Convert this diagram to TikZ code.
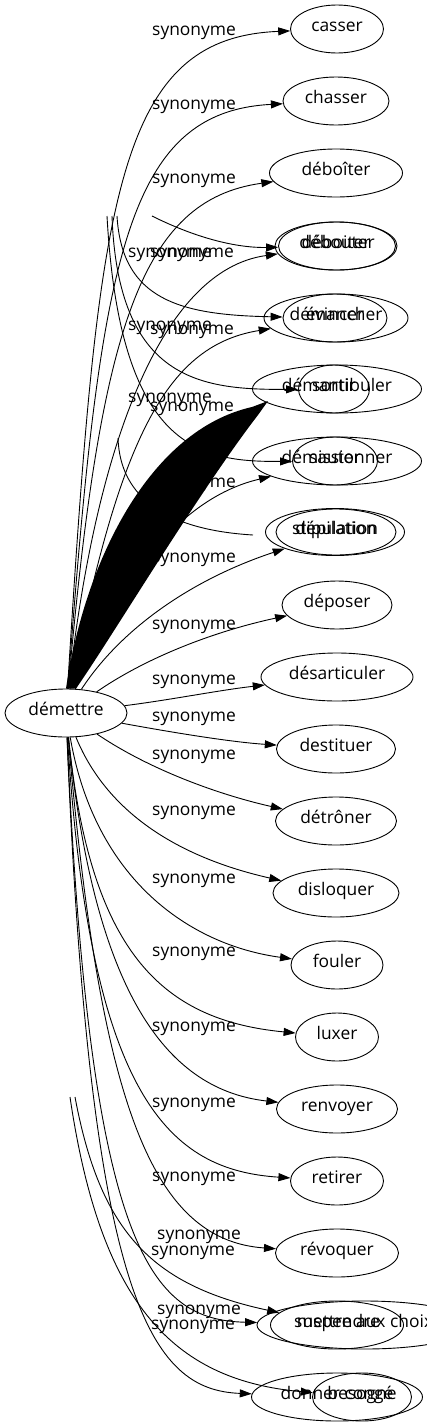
\documentclass[tikz,border=0pt]{standalone}
\usepackage{fontspec}
\setmainfont{Open Sans}
\usetikzlibrary{shapes.geometric,arrows.meta}

\begin{document}
\begin{tikzpicture}[x=1pt, y=-1pt,
    font=\fontsize{17.4}{20}\selectfont,
    word/.style={ellipse, draw, line width=0.9pt, minimum height=48pt, inner sep=0pt, text height=1ex, text depth=0pt},
    syn/.style={anchor=west, inner sep=0pt, text height=1ex, text depth=0pt},
    rel/.style={line width=0.9pt, -{Triangle[length=12pt,width=8pt]}}
]
\useasboundingbox (0,0) rectangle (427,1427);

% Words
\node[word, minimum width=122pt] (demettre) at (66,713) {démettre};
\node[word, minimum width=93pt] (casser) at (337,29) {casser};
\node[word, minimum width=106pt] (chasser) at (336,101) {chasser};
\node[word, minimum width=133pt] (deboiter) at (336,173) {déboîter};
\node[word, minimum width=122pt] (deboiterb) at (336,246) {déboiter};
\node[word, minimum width=117pt] (debouter) at (337,246) {débouter};
\node[word, minimum width=144pt] (demancher) at (336,318) {démancher};
\node[word, minimum width=104pt] (evincer) at (335,318) {évincer};
\node[word, minimum width=169pt] (demantibuler) at (337,389) {démantibuler};
\node[word, minimum width=71pt] (sortir) at (334,389) {sortir};
\node[word, minimum width=169pt] (demissionner) at (337,461) {démissionner};
\node[word, minimum width=85pt] (sauter) at (335,461) {sauter};
\node[word, minimum width=139pt, minimum height=47pt] (stipulation) at (335,532) {stipulation};
\node[word, minimum width=120pt, minimum height=46pt] (depilation) at (336,532) {dépilation};
\node[word, minimum width=110pt] (deposer) at (337,605) {déposer};
\node[word, minimum width=152pt] (desarticuler) at (337,677) {désarticuler};
\node[word, minimum width=119pt] (destituer) at (336,749) {destituer};
\node[word, minimum width=121pt] (detroner) at (336,821) {détrôner};
\node[word, minimum width=126pt] (disloquer) at (336,893) {disloquer};
\node[word, minimum width=92pt] (fouler) at (337,965) {fouler};
\node[word, minimum width=83pt] (luxer) at (337,1037) {luxer};
\node[word, minimum width=121pt] (renvoyer) at (337,1109) {renvoyer};
\node[word, minimum width=93pt] (retirer) at (337,1181) {retirer};
\node[word, minimum width=123pt] (revoquer) at (337,1253) {révoquer};
\node[word, minimum width=133pt] (suspendre) at (337,1325) {suspendre};
\node[word, minimum width=216pt] (mettre) at (365,1325) {mettre aux choix};
\node[word, minimum width=171pt] (donner) at (337,1397) {donner congé};
\node[word, minimum width=99pt] (besogne) at (362,1397) {besogne};

% Loose ends
\coordinate (ga) at (152,216);
\coordinate (gb) at (117,216);
\coordinate (gc) at (112,216);
\coordinate (gd) at (107,216);
\coordinate (ge) at (118,438);
\coordinate (gf) at (253,535);
\coordinate (gs) at (75,1097);
\coordinate (gt) at (70,1097);

% Edges, upper half
\draw[rel] (demettre) .. controls (98,200) and (115,38) .. (casser);
\draw[rel] (demettre) .. controls (100,260) and (125,112) .. (chasser);
\draw[rel] (demettre) .. controls (100,330) and (140,200) .. (deboiter);
\draw[rel] (demettre) .. controls (95,450) and (160,270) .. (deboiterb);
\draw[rel] (demettre) .. controls (120,430) and (170,345) .. (demancher);
\draw[rel] (demettre) .. controls (110,600) and (170,500) .. (demissionner);
\draw[rel] (demettre) .. controls (120,630) and (190,580) .. (stipulation);
\draw[rel] (demettre) .. controls (150,655) and (220,630) .. (deposer);
\draw[rel] (demettre) .. controls (170,700) and (220,690) .. (desarticuler);

% Edges, lower half
\draw[rel] (demettre) .. controls (170,732) and (230,742) .. (destituer);
\draw[rel] (demettre) .. controls (150,770) and (220,795) .. (detroner);
\draw[rel] (demettre) .. controls (110,820) and (190,860) .. (disloquer);
\draw[rel] (demettre) .. controls (95,880) and (190,945) .. (fouler);
\draw[rel] (demettre) .. controls (90,950) and (160,1020) .. (luxer);
\draw[rel] (demettre) .. controls (95,1000) and (170,1090) .. (renvoyer);
\draw[rel] (demettre) .. controls (90,1100) and (170,1170) .. (retirer);
\draw[rel] (demettre) .. controls (100,1100) and (150,1240) .. (revoquer);
\draw[rel] (demettre) .. controls (90,1250) and (150,1320) .. (mettre);
\draw[rel] (demettre) .. controls (90,1300) and (150,1390) .. (donner);

% Stray edges
\draw[rel] (ga) .. controls (200,240) and (240,248) .. (debouter);
\draw[rel] (gb) .. controls (122,300) and (180,315) .. (evincer);
\draw[rel] (gc) .. controls (118,380) and (200,390) .. (sortir);
\draw[rel] (gd) .. controls (120,450) and (200,462) .. (sauter);
\draw[line width=0.9pt] (ge) .. controls (120,500) and (170,530) .. (gf);
\draw[rel] (gs) .. controls (100,1230) and (150,1285) .. (suspendre);
\draw[rel] (gt) .. controls (100,1300) and (170,1380) .. (besogne);

% Edge labels
\node[syn] (s1) at (152,33) {synonyme};
\node[syn] (s2) at (152,107) {synonyme};
\node[syn] (s3) at (152,181) {synonyme};
\node[syn] (s4) at (128,255) {synonyme};
\node[syn] (s5) at (150,255) {synonyme};
\node[syn] (s6) at (128,328) {synonyme};
\node[syn] (s7) at (150,332) {synonyme};
\node[syn] (s8) at (128,400) {synonyme};
\node[syn] (s9) at (150,409) {synonyme};
\node[syn] (s10) at (152,485) {synonyme};
\node[syn] (s11) at (152,560) {synonyme};
\node[syn] (s12) at (152,627) {synonyme};
\node[syn] (s13) at (152,682) {synonyme};
\node[syn] (s14) at (152,719) {synonyme};
\node[syn] (s15) at (152,757) {synonyme};
\node[syn] (s16) at (152,813) {synonyme};
\node[syn] (s17) at (152,881) {synonyme};
\node[syn] (s18) at (152,954) {synonyme};
\node[syn] (s19) at (152,1029) {synonyme};
\node[syn] (s20) at (152,1105) {synonyme};
\node[syn] (s21) at (152,1179) {synonyme};
\node[syn] (s22) at (157,1237) {synonyme};
\node[syn] (s23) at (151,1253) {synonyme};
\node[syn] (s24) at (157,1312) {synonyme};
\node[syn] (s25) at (151,1327) {synonyme};

% Filled edge to demantibuler
\fill (demettre.north) .. controls (85,560) and (150,430) .. (252,407) -- (268,401) -- (258,415)
    .. controls (200,490) and (110,640) .. ([xshift=10pt]demettre.north) -- cycle;
\end{tikzpicture}
\end{document}
